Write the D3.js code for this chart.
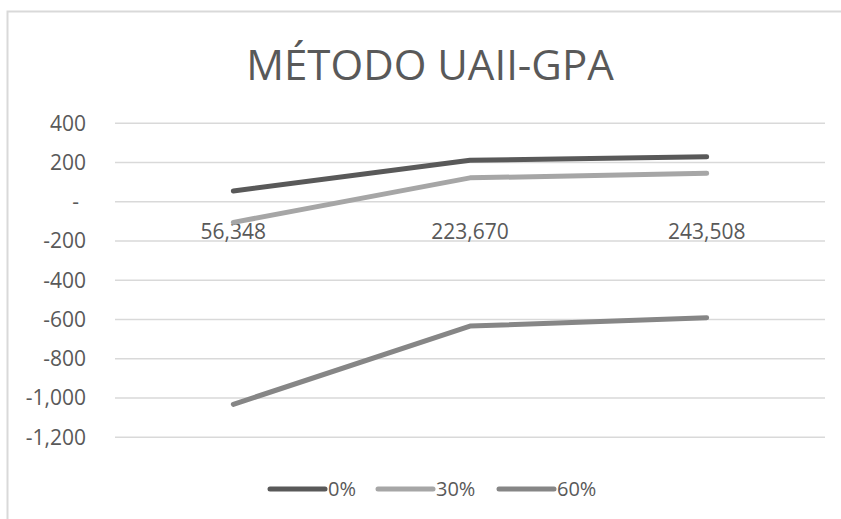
<!DOCTYPE html>
<html>
<head>
<meta charset="utf-8">
<script src="https://cdn.jsdelivr.net/npm/d3@7"></script>
<style>
  body { margin: 0; background: #fff; }
  svg { display: block; font-family: "Open Sans", sans-serif; }
</style>
</head>
<body>
<script>
var categories = ['56,348', '223,670', '243,508'];
var seriesNames = ['0%', '30%', '60%'];
var values0 = [55, 212, 229];
var values30 = [-105, 122, 145];
var values60 = [-1032, -633, -591];
var yTicks = [400, 200, 0, -200, -400, -600, -800, -1000, -1200];

const width = 841;
const height = 519;
const colors = ['#595959', '#a6a6a6', '#868686'];
const fmt = d3.format(',');

const svg = d3.select("body").append("svg")
    .attr("width", width)
    .attr("height", height);

// chart border (runs off the page on right/bottom)
svg.append("rect")
    .attr("x", 7.5).attr("y", 11.5)
    .attr("width", 900).attr("height", 600)
    .attr("fill", "none")
    .attr("stroke", "#d9d9d9")
    .attr("stroke-width", 2);

svg.append("text")
    .attr("x", 430)
    .attr("y", 80)
    .attr("text-anchor", "middle")
    .attr("font-size", 42)
    .attr("fill", "#595959")
    .text("MÉTODO UAII-GPA");

const x = d3.scaleBand()
    .domain(categories)
    .range([115, 825]);

const y = d3.scaleLinear()
    .domain([-1200, 400])
    .range([437.3, 123.3]);

// y axis
const yAxis = d3.axisLeft(y)
    .tickValues(yTicks)
    .tickSize(0)
    .tickPadding(0)
    .tickFormat(function (d) { return d === 0 ? '-' : fmt(d).replace('\u2212', '-'); });

const yGroup = svg.append("g")
    .attr("class", "yAxis")
    .attr("transform", "translate(86,0)")
    .call(yAxis);
yGroup.select(".domain").remove();
yGroup.selectAll("text")
    .attr("font-size", 21)
    .attr("font-family", "Open Sans")
    .attr("fill", "#595959");
yGroup.selectAll("text").filter(function (d) { return d === 0; })
    .attr("dx", -7);

// gridlines
svg.append("g")
    .attr("class", "grid")
    .selectAll("line")
    .data(yTicks)
    .join("line")
    .attr("x1", 115).attr("x2", 825)
    .attr("y1", function (d) { return y(d); })
    .attr("y2", function (d) { return y(d); })
    .attr("stroke", "#d9d9d9")
    .attr("stroke-width", 1.5);

// category labels sit just under the zero line
const xAxis = d3.axisBottom(x).tickSize(0).tickPadding(0);
const xGroup = svg.append("g")
    .attr("class", "xAxis")
    .attr("transform", "translate(0," + y(0) + ")")
    .call(xAxis);
xGroup.select(".domain").remove();
xGroup.selectAll("text")
    .attr("font-size", 21)
    .attr("font-family", "Open Sans")
    .attr("fill", "#595959")
    .attr("y", 37)
    .attr("dy", 0);

const line = d3.line()
    .x(function (d, i) { return x(categories[i]) + x.bandwidth() / 2; })
    .y(function (d) { return y(d); });

const allSeries = [values0, values30, values60];

svg.append("g")
    .selectAll("path")
    .data(allSeries)
    .join("path")
    .attr("d", function (d) { return line(d); })
    .attr("fill", "none")
    .attr("stroke", function (d, i) { return colors[i]; })
    .attr("stroke-width", 5)
    .attr("stroke-linecap", "round")
    .attr("stroke-linejoin", "round");

// legend
const legendX = [270, 378, 499];
const legend = svg.append("g").attr("class", "legend");
seriesNames.forEach(function (name, i) {
    legend.append("line")
        .attr("x1", legendX[i]).attr("x2", legendX[i] + 55)
        .attr("y1", 489).attr("y2", 489)
        .attr("stroke", colors[i])
        .attr("stroke-width", 5)
        .attr("stroke-linecap", "round");
    legend.append("text")
        .attr("x", legendX[i] + 58)
        .attr("y", 489)
        .attr("dy", "0.35em")
        .attr("font-size", 20)
        .attr("fill", "#595959")
        .text(name);
});
</script>
</body>
</html>
